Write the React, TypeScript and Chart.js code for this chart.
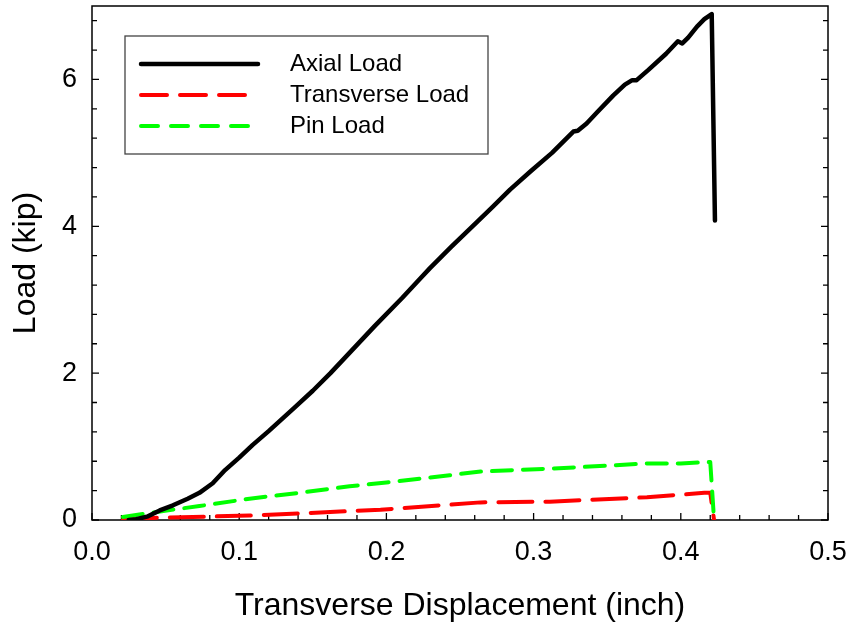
import React, { useEffect, useRef } from "react";
import { Chart, registerables } from "chart.js";

Chart.register(...registerables);

const FONT = "'Liberation Sans', Arial, sans-serif";

const SERIES_NAMES = ["Axial Load", "Transverse Load", "Pin Load"];

const AXIAL_X = [
  0.025, 0.03, 0.038, 0.046, 0.055, 0.065, 0.073, 0.082, 0.0904, 0.1, 0.109,
  0.12, 0.137, 0.15, 0.162, 0.177, 0.192, 0.211, 0.223, 0.2296, 0.244, 0.259,
  0.272, 0.284, 0.298, 0.3125, 0.327, 0.33, 0.336, 0.343, 0.354, 0.362, 0.367,
  0.37, 0.378, 0.39, 0.398, 0.401, 0.405, 0.411, 0.416, 0.421, 0.4232,
];
const AXIAL_Y = [
  0, 0.01, 0.05, 0.13, 0.2, 0.29, 0.37, 0.5, 0.68, 0.85, 1.02, 1.21, 1.52,
  1.76, 2.0, 2.32, 2.64, 3.03, 3.29, 3.43, 3.72, 4.01, 4.26, 4.5, 4.75, 5.0,
  5.29, 5.3, 5.4, 5.55, 5.78, 5.93, 5.99, 5.99, 6.13, 6.35, 6.52, 6.49, 6.57,
  6.72, 6.82, 6.89, 4.08,
];

const TRANS_X = [
  0.021, 0.044, 0.107, 0.141, 0.196, 0.264, 0.311, 0.3315, 0.377, 0.416, 0.42,
  0.4226,
];
const TRANS_Y = [0, 0.03, 0.06, 0.09, 0.14, 0.24, 0.25, 0.27, 0.31, 0.37, 0.37, 0];

const PIN_X = [
  0.021, 0.044, 0.073, 0.107, 0.141, 0.175, 0.2, 0.243, 0.264, 0.311, 0.3315,
  0.377, 0.4, 0.42, 0.4226,
];
const PIN_Y = [
  0.04, 0.11, 0.19, 0.29, 0.37, 0.46, 0.51, 0.61, 0.66, 0.7, 0.72, 0.77, 0.77,
  0.79, 0,
];

const X_TICKS = [0, 0.1, 0.2, 0.3, 0.4, 0.5];
const Y_TICKS = [0, 2, 4, 6];
const X_MINOR_STEP = 0.02;
const Y_MINOR_STEP = 0.4;

const COLORS = ["#000000", "#ff0000", "#00ff00"];
const WIDTHS = [4.5, 4, 4];
const PLOT_DASH = [[], [34, 13], [20, 11]];
const LEGEND_DASH = [[], [26, 13], [17, 13]];

const framePlugin = {
  id: "frame",
  beforeDatasetsDraw(chart: any) {
    const { ctx, chartArea: a, scales } = chart;
    const xs = scales.x;
    const ys = scales.y;
    ctx.save();
    ctx.strokeStyle = "#000";
    ctx.lineWidth = 1.5;
    ctx.strokeRect(a.left, a.top, a.right - a.left, a.bottom - a.top);
    ctx.lineWidth = 1.3;
    ctx.beginPath();
    const nx = Math.round((xs.max - xs.min) / X_MINOR_STEP);
    for (let i = 0; i <= nx; i++) {
      const px = xs.getPixelForValue(xs.min + i * X_MINOR_STEP);
      const len = i % 5 === 0 ? 7 : 5;
      ctx.moveTo(px, a.bottom);
      ctx.lineTo(px, a.bottom - len);
    }
    const ny = Math.floor((ys.max - ys.min) / Y_MINOR_STEP + 1e-9);
    for (let i = 0; i <= ny; i++) {
      const py = ys.getPixelForValue(ys.min + i * Y_MINOR_STEP);
      const len = i % 5 === 0 ? 7 : 5;
      ctx.moveTo(a.left, py);
      ctx.lineTo(a.left + len, py);
      ctx.moveTo(a.right, py);
      ctx.lineTo(a.right - len, py);
    }
    ctx.stroke();
    ctx.restore();
  },
};

const legendPlugin = {
  id: "boxLegend",
  afterDraw(chart: any) {
    const { ctx, chartArea: a } = chart;
    const l = a.left + 33;
    const t = a.top + 30;
    const r = a.left + 396;
    const b = a.top + 148;
    ctx.save();
    ctx.fillStyle = "#fff";
    ctx.fillRect(l, t, r - l, b - t);
    ctx.strokeStyle = "#444";
    ctx.lineWidth = 1.3;
    ctx.strokeRect(l, t, r - l, b - t);
    const rows = [a.top + 58, a.top + 89, a.top + 120];
    SERIES_NAMES.forEach((name, i) => {
      const y = rows[i];
      ctx.beginPath();
      ctx.setLineDash(LEGEND_DASH[i]);
      ctx.lineCap = "round";
      ctx.strokeStyle = COLORS[i];
      ctx.lineWidth = WIDTHS[i];
      ctx.moveTo(a.left + 49, y);
      ctx.lineTo(a.left + 166, y);
      ctx.stroke();
      ctx.setLineDash([]);
      ctx.fillStyle = "#000";
      ctx.font = `24px ${FONT}`;
      ctx.textBaseline = "middle";
      ctx.textAlign = "left";
      ctx.fillText(name, a.left + 198, y);
    });
    ctx.restore();
  },
};

function toPoints(xs: number[], ys: number[]) {
  return xs.map((x, i) => ({ x, y: ys[i] }));
}

export default function App() {
  const ref = useRef<HTMLCanvasElement | null>(null);
  useEffect(() => {
    if (!ref.current) return;
    const data = [
      toPoints(AXIAL_X, AXIAL_Y),
      toPoints(TRANS_X, TRANS_Y),
      toPoints(PIN_X, PIN_Y),
    ];
    const orders = [0, 2, 1];
    const chart = new Chart(ref.current, {
      type: "line",
      data: {
        datasets: SERIES_NAMES.map((name, i) => ({
          label: name,
          data: data[i],
          borderColor: COLORS[i],
          backgroundColor: COLORS[i],
          borderWidth: WIDTHS[i],
          borderDash: PLOT_DASH[i],
          borderCapStyle: "round",
          borderJoinStyle: "round",
          pointRadius: 0,
          fill: false,
          tension: 0,
          order: orders[i],
        })),
      },
      options: {
        animation: false,
        responsive: false,
        maintainAspectRatio: false,
        layout: { padding: { top: 6, right: 25, bottom: 0, left: 0 } },
        plugins: { legend: { display: false }, tooltip: { enabled: false } },
        scales: {
          x: {
            type: "linear",
            min: 0,
            max: 0.5,
            afterBuildTicks: (s: any) => {
              s.ticks = X_TICKS.map((v) => ({ value: v }));
            },
            afterFit: (s: any) => {
              s.height = 106;
              s.paddingLeft = 0;
              s.paddingRight = 0;
              s.paddingTop = 0;
              s.paddingBottom = 0;
            },
            grid: { display: false, drawTicks: false },
            border: { display: false },
            ticks: {
              padding: 16,
              color: "#000",
              font: { family: FONT, size: 27 },
              maxRotation: 0,
              autoSkip: false,
              callback: (v: any) => Number(v).toFixed(1),
            },
            title: {
              display: true,
              text: "Transverse Displacement (inch)",
              color: "#000",
              font: { family: FONT, size: 32 },
              padding: { top: 0, bottom: 1 },
            },
          },
          y: {
            type: "linear",
            min: 0,
            max: 7,
            afterBuildTicks: (s: any) => {
              s.ticks = Y_TICKS.map((v) => ({ value: v }));
            },
            afterFit: (s: any) => {
              s.width = 92;
              s.paddingLeft = 0;
              s.paddingRight = 0;
              s.paddingTop = 0;
              s.paddingBottom = 0;
            },
            grid: { display: false, drawTicks: false },
            border: { display: false },
            ticks: {
              padding: 15,
              color: "#000",
              font: { family: FONT, size: 27 },
              autoSkip: false,
              callback: (v: any) => String(v),
            },
            title: {
              display: true,
              text: "Load (kip)",
              color: "#000",
              font: { family: FONT, size: 32 },
              padding: { top: 7, bottom: 0 },
            },
          },
        },
      },
      plugins: [framePlugin, legendPlugin],
    } as any);
    return () => chart.destroy();
  }, []);
  return (
    <div style={{ position: "fixed", left: 0, top: 0, width: 853, height: 626, background: "#fff" }}>
      <canvas ref={ref} width={853} height={626} style={{ width: 853, height: 626 }} />
    </div>
  );
}
